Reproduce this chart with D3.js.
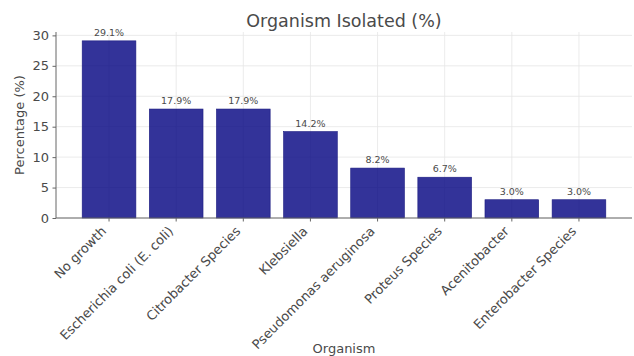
<!DOCTYPE html>
<html>
<head>
<meta charset="utf-8">
<script src="https://cdn.jsdelivr.net/npm/d3@7"></script>
<style>
  html, body { margin: 0; padding: 0; background: #fff; }
  svg { display: block; font-family: "DejaVu Sans", sans-serif; }
</style>
</head>
<body>
<svg id="chart" width="634" height="356"></svg>
<script>
// Organism isolation shares
const organisms = [
  "No growth",
  "Escherichia coli (E. coli)",
  "Citrobacter Species",
  "Klebsiella",
  "Pseudomonas aeruginosa",
  "Proteus Species",
  "Acenitobacter",
  "Enterobacter Species"
];
const percentages = [29.1, 17.9, 17.9, 14.2, 8.2, 6.7, 3.0, 3.0];
const yTicks = [0, 5, 10, 15, 20, 25, 30];

const svg = d3.select("#chart");
const margin = { left: 56, right: 2, top: 32, bottom: 138 };
const W = 634, H = 356;
const x0 = margin.left, x1 = W - margin.right;
const y0 = H - margin.bottom, y1 = margin.top;

const textColor = "#4a4a4a";
const gridColor = "#e6e6e6";

// Category axis with padding around the bars
const n = organisms.length;
const xLin = d3.scaleLinear().domain([-0.79, n - 1 + 0.79]).range([x0, x1]);
const barW = xLin(0.8) - xLin(0);

const yMax = d3.max(percentages) * 1.05;
const y = d3.scaleLinear().domain([0, yMax]).range([y0, y1]);

// Grid
const grid = svg.append("g");
grid.selectAll("line.h").data(yTicks).join("line")
  .attr("x1", x0).attr("x2", x1)
  .attr("y1", d => y(d)).attr("y2", d => y(d))
  .attr("stroke", gridColor).attr("stroke-width", 0.8);
grid.selectAll("line.v").data(d3.range(n)).join("line")
  .attr("x1", d => xLin(d)).attr("x2", d => xLin(d))
  .attr("y1", y0).attr("y2", y1)
  .attr("stroke", gridColor).attr("stroke-width", 0.8);

// Bars
svg.append("g").selectAll("rect").data(percentages).join("rect")
  .attr("x", (d, i) => xLin(i) - barW / 2)
  .attr("width", barW)
  .attr("y", d => y(d))
  .attr("height", d => y(0) - y(d))
  .attr("fill", "#000080")
  .attr("fill-opacity", 0.8)
  .attr("stroke", "#1a1a80")
  .attr("stroke-width", 0.6);

// Value labels
svg.append("g").selectAll("text").data(percentages).join("text")
  .attr("x", (d, i) => xLin(i))
  .attr("y", d => y(d) - 5)
  .attr("text-anchor", "middle")
  .attr("font-size", 9.5)
  .attr("fill", textColor)
  .text(d => d.toFixed(1) + "%");

// Y axis
const yAxis = d3.axisLeft(y).tickValues(yTicks).tickSize(3.5).tickPadding(3.5);
const gy = svg.append("g").attr("transform", `translate(${x0},0)`).call(yAxis);
gy.select(".domain").attr("stroke", "#666").attr("stroke-width", 1)
  .attr("d", `M0,${y0}V${y1}`);
gy.selectAll(".tick line").attr("stroke", "#666");
gy.selectAll(".tick text").attr("font-size", 13).attr("fill", textColor)
  .attr("font-family", "DejaVu Sans, sans-serif");

// X axis
const gx = svg.append("g").attr("transform", `translate(0,${y0})`);
gx.append("line").attr("x1", x0).attr("x2", x1).attr("y1", 0).attr("y2", 0)
  .attr("stroke", "#666").attr("stroke-width", 1);
const xt = gx.selectAll("g.tick").data(organisms).join("g")
  .attr("transform", (d, i) => `translate(${xLin(i)},0)`);
xt.append("line").attr("y1", 0).attr("y2", 3.5).attr("stroke", "#666");
xt.append("text")
  .attr("transform", "translate(-2,14) rotate(-45)")
  .attr("text-anchor", "end")
  .attr("font-size", 13)
  .attr("fill", textColor)
  .text(d => d);

// Titles
svg.append("text")
  .attr("x", (x0 + x1) / 2).attr("y", 27)
  .attr("text-anchor", "middle")
  .attr("font-size", 17.5)
  .attr("fill", textColor)
  .text("Organism Isolated (%)");

svg.append("text")
  .attr("transform", `translate(24,${(y0 + y1) / 2}) rotate(-90)`)
  .attr("text-anchor", "middle")
  .attr("font-size", 13)
  .attr("fill", textColor)
  .text("Percentage (%)");

svg.append("text")
  .attr("x", (x0 + x1) / 2).attr("y", 353)
  .attr("text-anchor", "middle")
  .attr("font-size", 13)
  .attr("fill", textColor)
  .text("Organism");
</script>
</body>
</html>
